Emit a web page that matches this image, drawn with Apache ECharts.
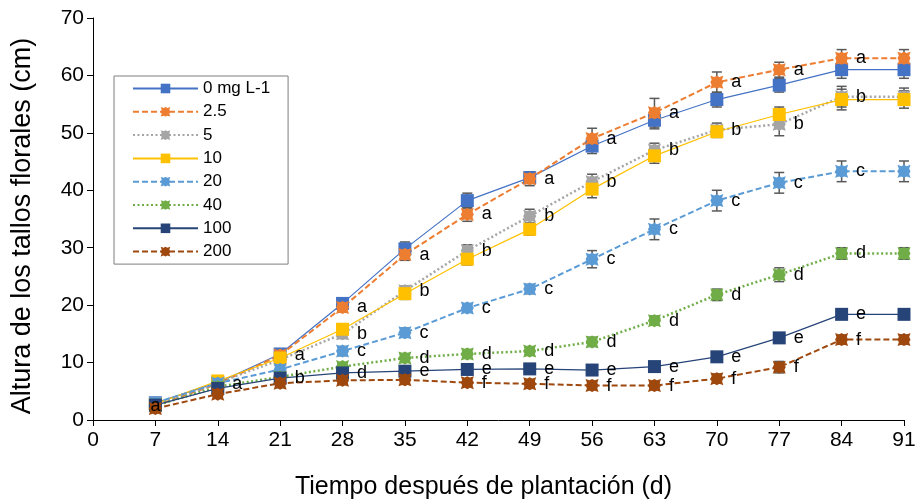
<!DOCTYPE html>
<html>
<head>
<meta charset="utf-8">
<script src="https://cdn.jsdelivr.net/npm/echarts@6/dist/echarts.min.js"></script>
<style>html,body{margin:0;padding:0;background:#fff}#c{width:917px;height:502px}</style>
</head>
<body>
<div id="c"></div>
<script>
const days = [7,14,21,28,35,42,49,56,63,70,77,84,91];
const seriesNames = ['0 mg L-1','2.5','5','10','20','40','100','200'];
const v0   = [3.0,6.5,11.5,20.3,29.8,38.2,42.2,47.7,52.2,55.8,58.3,61.0,61.0];
const v2_5 = [2.5,6.3,11.3,19.6,28.8,35.8,42.0,49.0,53.5,58.8,61.0,63.0,63.0];
const v5   = [2.5,6.5,10.5,15.0,22.5,29.5,35.5,41.5,47.0,50.5,51.5,56.3,56.3];
const v10  = [2.8,6.8,10.8,15.8,22.0,28.0,33.2,40.2,46.0,50.2,53.2,55.8,55.8];
const v20  = [3.0,6.4,8.8,12.0,15.2,19.5,22.8,28.0,33.2,38.2,41.3,43.3,43.3];
const v40  = [2.5,5.8,7.5,9.3,10.8,11.5,12.0,13.6,17.3,21.8,25.3,29.0,29.0];
const v100 = [2.6,5.5,7.3,8.2,8.5,8.8,8.9,8.7,9.3,11.0,14.3,18.4,18.4];
const v200 = [2.0,4.5,6.4,6.9,7.0,6.5,6.3,6.0,6.0,7.2,9.2,14.0,14.0];

const e0   = [0.3,0.4,0.5,0.8,1.2,1.3,1.0,1.3,1.5,1.3,1.2,1.5,1.5];
const e2_5 = [0.3,0.4,0.5,0.8,1.0,1.2,1.2,1.8,2.5,1.8,1.3,1.5,1.5];
const e5   = [0.3,0.3,0.5,0.8,0.8,1.0,1.2,1.3,1.2,1.2,2.0,1.8,1.5];
const e10  = [0.3,0.3,0.5,0.8,1.0,1.0,1.0,1.5,1.3,1.0,1.3,1.8,1.5];
const e20  = [0.3,0.3,0.5,0.8,0.8,0.6,0.8,1.5,1.8,1.8,1.8,1.8,1.8];
const e40  = [0.2,0.3,0.4,0.5,0.6,0.6,0.6,0.8,0.8,1.0,1.2,1.0,1.0];
const e100 = [0.2,0.3,0.4,0.4,0.5,0.5,0.5,0.5,0.5,0.6,0.8,0.8,0.8];
const e200 = [0.3,0.3,0.4,0.5,0.5,0.5,0.5,0.5,0.6,0.8,1.0,0.8,0.8];

const L0   = ['','','','','','','','','','','','',''];
const L2_5 = ['a','a','a','a','a','a','a','a','a','a','a','a','a'];
const L5   = ['','','','b','b','b','b','b','b','b','b','b','b'];
const L10  = ['','','','','','','','','','','','',''];
const L20  = ['','','','c','c','c','c','c','c','c','c','c','c'];
const L40  = ['','','','','d','d','d','d','d','d','d','d','d'];
const L100 = ['','','b','d','e','e','e','e','e','e','e','e','e'];
const L200 = ['','','','','','f','f','f','f','f','f','f','f'];

const FONT = 'Liberation Sans, Arial, sans-serif';
const xMark = 'path://M0,0 L3,1 L5,0 L7,1 L10,0 L9,3 L10,5 L9,7 L10,10 L7,9 L5,10 L3,9 L0,10 L1,7 L0,5 L1,3 Z';

const defs = [
  {v:v0,   e:e0,   L:L0,   color:'#4472C4', w:1.2, type:'solid',  sym:'rect'},
  {v:v2_5, e:e2_5, L:L2_5, color:'#ED7D31', w:2,   type:[6,3],    sym:xMark},
  {v:v5,   e:e5,   L:L5,   color:'#A5A5A5', w:2.5, type:[2,2.5],  sym:xMark},
  {v:v10,  e:e10,  L:L10,  color:'#FFC000', w:1.2, type:'solid',  sym:'rect'},
  {v:v20,  e:e20,  L:L20,  color:'#5B9BD5', w:2,   type:[6,3],    sym:xMark},
  {v:v40,  e:e40,  L:L40,  color:'#70AD47', w:2.5, type:[2,2.5],  sym:xMark},
  {v:v100, e:e100, L:L100, color:'#264478', w:1.2, type:'solid',  sym:'rect'},
  {v:v200, e:e200, L:L200, color:'#9E480E', w:2,   type:[6,3],    sym:xMark}
];

const series = [];
defs.forEach((d, si) => {
  series.push({
    name: 'err' + si,
    type: 'custom',
    z: 1,
    silent: true,
    data: days.map((x, i) => [x, d.v[i], d.e[i]]),
    renderItem: function (params, api) {
      const x = api.value(0), y = api.value(1), e = api.value(2);
      const t = api.coord([x, y + e]);
      const b = api.coord([x, y - e]);
      const hw = 5;
      const st = {stroke: '#595959', lineWidth: 1.5};
      return {type: 'group', children: [
        {type: 'line', shape: {x1: t[0], y1: t[1], x2: b[0], y2: b[1]}, style: st},
        {type: 'line', shape: {x1: t[0]-hw, y1: t[1], x2: t[0]+hw, y2: t[1]}, style: st},
        {type: 'line', shape: {x1: b[0]-hw, y1: b[1], x2: b[0]+hw, y2: b[1]}, style: st}
      ]};
    }
  });
});
defs.forEach((d, si) => {
  series.push({
    name: seriesNames[si],
    type: 'line',
    z: 3,
    symbol: d.sym,
    symbolSize: 13,
    showAllSymbol: true,
    color: d.color,
    itemStyle: {color: d.color},
    lineStyle: {color: d.color, width: d.w, type: d.type},
    data: days.map((x, i) => {
      const item = {value: [x, d.v[i]]};
      if (i === 0) item.label = {position: 'inside', offset: [-3, -4]};
      return item;
    }),
    label: {
      show: true, position: 'right', distance: 8, fontSize: 18, color: '#000',
      fontFamily: FONT,
      formatter: p => d.L[p.dataIndex]
    },
    labelLayout: {hideOverlap: false},
    animation: false
  });
});

const chart = echarts.init(document.getElementById('c'));
chart.setOption({
  animation: false,
  backgroundColor: '#fff',
  grid: {left: 93, right: 13, top: 18, bottom: 82, containLabel: false, outerBoundsMode: 'none'},
  legend: {
    data: seriesNames,
    orient: 'vertical',
    left: 114, top: 76,
    padding: [4, 18, 4, 18],
    itemWidth: 65, itemHeight: 12, itemGap: 6.3,
    borderColor: '#7f7f7f', borderWidth: 1,
    backgroundColor: '#fff',
    textStyle: {fontSize: 17, color: '#000', fontFamily: FONT, lineHeight: 17}
  },
  xAxis: {
    type: 'value', min: 0, max: 91, interval: 7,
    name: 'Tiempo después de plantación (d)', nameLocation: 'middle', nameGap: 55,
    nameTextStyle: {fontSize: 25, color: '#000', fontFamily: FONT, padding: [0, 30, 0, 0]},
    axisLine: {lineStyle: {color: '#000', width: 1}},
    axisTick: {show: true, inside: false, length: 6, lineStyle: {color: '#000'}},
    axisLabel: {fontSize: 21, color: '#000', fontFamily: FONT, margin: 10},
    splitLine: {show: false}
  },
  yAxis: {
    type: 'value', min: 0, max: 70, interval: 10,
    name: 'Altura de los tallos florales (cm)', nameLocation: 'middle', nameGap: 57,
    nameTextStyle: {fontSize: 27, color: '#000', fontFamily: FONT, padding: [0, 14, 0, 0]},
    axisLine: {show: true, lineStyle: {color: '#000', width: 1}},
    axisTick: {show: true, inside: false, length: 6, lineStyle: {color: '#000'}},
    axisLabel: {fontSize: 21, color: '#000', fontFamily: FONT, margin: 9},
    splitLine: {show: false}
  },
  series: series
});
</script>
</body>
</html>
